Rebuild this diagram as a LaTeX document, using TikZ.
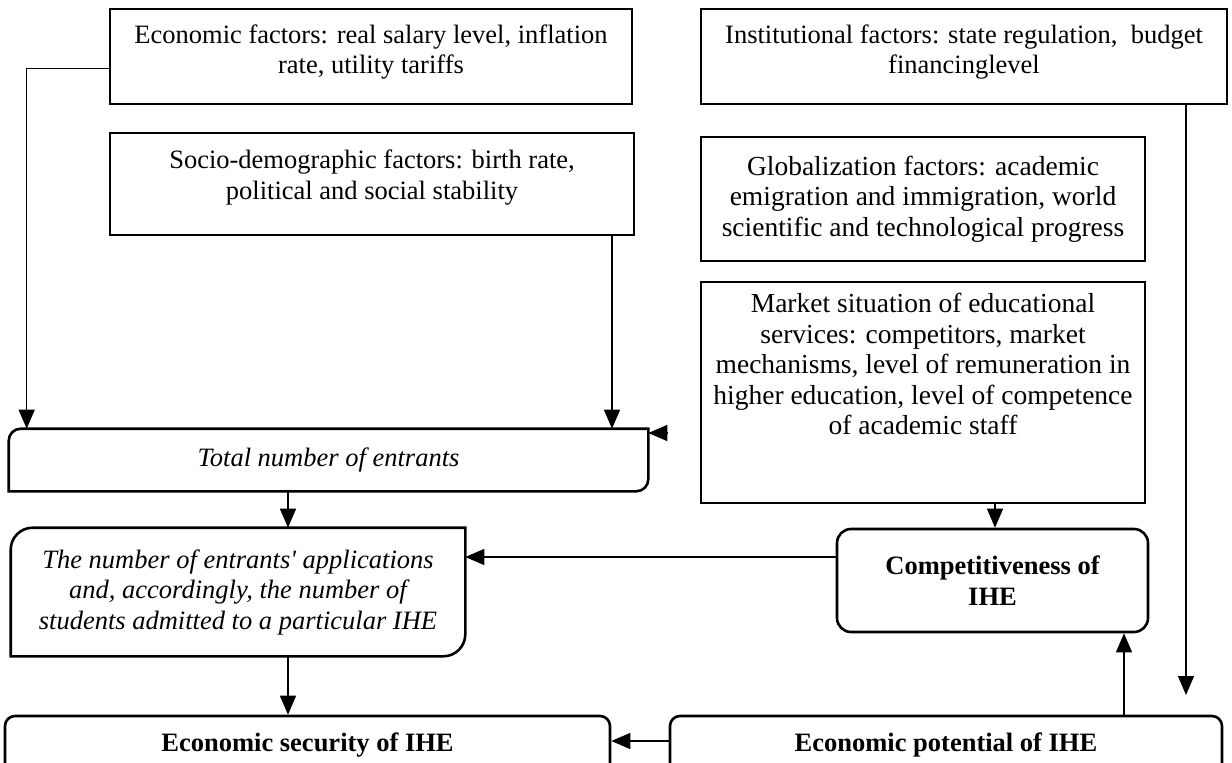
\documentclass[tikz,border=0pt]{standalone}
\usepackage{fontspec}
\setmainfont{Liberation Serif}
\usetikzlibrary{arrows.meta}
\newcommand\diagfont{\fontsize{26.5}{30.5}\selectfont}
\newcommand\diagfontb{\fontsize{27.5}{30.5}\selectfont}
\begin{document}
\begin{tikzpicture}[x=1pt,y=-1pt,
  box/.style={draw, line width=2.6pt, align=center, inner sep=0pt, font=\diagfont, fill=white},
  plainbox/.style={box, draw=none},
  rbox/.style={box, rounded corners=14pt},
  outline/.style={line width=2.6pt},
  ln/.style={line width=1.3pt},
  arr/.style={ln, -{Triangle[length=19pt,width=16pt]}}]
\useasboundingbox (0,0) rectangle (1232,763);
\clip (0,0) rectangle (1232,763);
\fill[white] (0,0) rectangle (1232,763);

% boxes
\node[box, minimum width=522pt, minimum height=95pt] (econ) at (371,56.5)
  {Economic factors: real salary level, inflation\\rate, utility tariffs\\[-16pt]\mbox{}};
\node[box, minimum width=526pt, minimum height=95pt] (inst) at (964,56.5)
  {Institutional factors: state regulation,\ \ budget\\financinglevel\\[-16pt]\mbox{}};
\node[box, minimum width=524pt, minimum height=102pt] (socio) at (372,184)
  {Socio-demographic factors: birth rate,\\political and social stability\\[-12pt]\mbox{}};
\node[box, minimum width=444pt, minimum height=124pt, font=\diagfontb] (glob) at (923,199)
  {Globalization factors: academic\\emigration and immigration, world\\scientific and technological progress};
\node[box, minimum width=444pt, minimum height=221pt, font=\diagfontb] (market) at (923,392.5)
  {Market situation of educational\\services: competitors, market\\mechanisms, level of remuneration in\\higher education, level of competence\\of academic staff\\[26.5pt]\mbox{}};

\node[plainbox, minimum width=637pt, minimum height=60pt, font=\diagfont\itshape] (entr) at (328.5,460)
  {Total number of entrants};
\draw[outline] (entr.south west) -- ([yshift=-12pt]entr.north west)
  arc[start angle=180,end angle=90,radius=12pt] -- (entr.north east)
  -- ([yshift=12pt]entr.south east) arc[start angle=0,end angle=-90,radius=12pt] -- cycle;

\node[plainbox, minimum width=452pt, minimum height=126pt, font=\diagfont\itshape] (apps) at (238,592)
  {The number of entrants\textquotesingle\ applications\\and, accordingly, the number of\\students admitted to a particular IHE};
\draw[outline] (apps.south west) -- ([yshift=-22pt]apps.north west)
  arc[start angle=180,end angle=90,radius=22pt] -- (apps.north east)
  -- ([yshift=22pt]apps.south east) arc[start angle=0,end angle=-90,radius=22pt] -- cycle;

\node[rbox, minimum width=311pt, minimum height=103pt, font=\diagfont\bfseries] (comp) at (992.5,580.5)
  {Competitiveness of\\IHE};
\node[rbox, rounded corners=10pt, minimum width=605pt, minimum height=58pt, font=\diagfont\bfseries] (sec) at (307.5,745)
  {Economic security of IHE};
\node[rbox, rounded corners=10pt, minimum width=552pt, minimum height=58pt, font=\diagfont\bfseries] (pot) at (946,745)
  {Economic potential of IHE};

% helper coordinates
\coordinate (sx) at (612,0);
\coordinate (ix) at (1186,0);
\coordinate (itip) at (1186,695);
\coordinate (mx) at (995,0);
\coordinate (hy) at (0,557);
\coordinate (ax) at (288,0);
\coordinate (hy2) at (0,741);
\coordinate (px) at (1124,0);
\coordinate (stub) at (668,433);

% connectors
\draw[arr] ([yshift=-12pt]econ.west) -| ([xshift=18pt]entr.north west);
\draw[arr] (socio.south -| sx) -- (entr.north -| sx);
\draw[arr] (stub) -- (entr.north east |- stub);
\draw[arr] (inst.south -| ix) -- (itip);
\draw[arr] (market.south -| mx) -- (comp.north -| mx);
\draw[arr] (comp.west |- hy) -- (apps.east |- hy);
\draw[arr] (entr.south -| ax) -- (apps.north -| ax);
\draw[arr] (apps.south -| ax) -- (sec.north -| ax);
\draw[arr] (pot.west |- hy2) -- (sec.east |- hy2);
\draw[arr] (pot.north -| px) -- (comp.south -| px);
\end{tikzpicture}
\end{document}
